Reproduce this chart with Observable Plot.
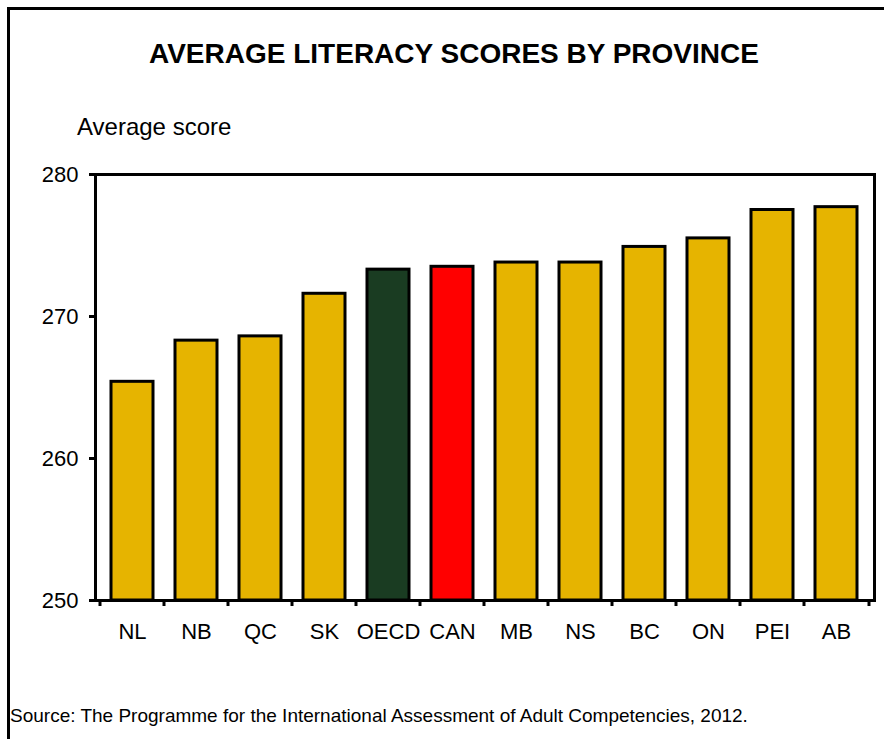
<!DOCTYPE html>
<html>
<head>
<meta charset="utf-8">
<script src="https://cdn.jsdelivr.net/npm/d3@7"></script>
<script src="https://cdn.jsdelivr.net/npm/@observablehq/plot@0.6"></script>
<style>
  html, body { margin: 0; padding: 0; background: #fff; }
  body { width: 884px; height: 739px; overflow: hidden; position: relative; font-family: "Liberation Sans", Arial, sans-serif; color: #000; }
  #border { position: absolute; left: 7px; top: 7px; width: 1000px; height: 1000px; border-left: 3px solid #000; border-top: 3px solid #000; }
  #title { position: absolute; left: 454px; top: 40px; transform: translateX(-50%); white-space: nowrap; font-weight: bold; font-size: 28px; line-height: 1; }
  #ylabel { position: absolute; left: 77px; top: 115px; font-size: 24px; line-height: 1; white-space: nowrap; }
  #chart { position: absolute; left: 0; top: 140px; }
  #source { position: absolute; left: 10px; top: 706px; font-size: 19px; line-height: 1; white-space: nowrap; }
</style>
</head>
<body>
<div id="border"></div>
<div id="title">AVERAGE LITERACY SCORES BY PROVINCE</div>
<div id="ylabel">Average score</div>
<div id="chart"></div>
<div id="source">Source: The Programme for the International Assessment of Adult Competencies, 2012.</div>
<script>
const categories = ["NL", "NB", "QC", "SK", "OECD", "CAN", "MB", "NS", "BC", "ON", "PEI", "AB"];
const scores = [265.4, 268.3, 268.6, 271.6, 273.3, 273.5, 273.8, 273.8, 274.9, 275.5, 277.5, 277.7];
const barColors = ["#E6B400", "#E6B400", "#E6B400", "#E6B400", "#1A3C22", "#FF0000", "#E6B400", "#E6B400", "#E6B400", "#E6B400", "#E6B400", "#E6B400"];
const yTicks = [250, 260, 270, 280];

const data = categories.map((c, i) => ({cat: c, score: scores[i], color: barColors[i]}));

const chart = Plot.plot({
  width: 884,
  height: 520,
  marginLeft: 95,
  marginRight: 10,
  marginTop: 34,
  marginBottom: 60,
  style: {fontFamily: "'Liberation Sans', Arial, sans-serif", fontSize: "22px", color: "#000", background: "transparent"},
  x: {domain: categories, paddingInner: 0.34, paddingOuter: 0.17, label: null},
  y: {domain: [250, 280], label: null},
  color: {type: "identity"},
  marks: [
    Plot.barY(data, {x: "cat", y1: 250, y2: "score", fill: "color", stroke: "#000", strokeWidth: 3}),
    Plot.frame({stroke: "#000", strokeWidth: 3}),
    Plot.axisY({ticks: yTicks, tickSize: 6, tickPadding: 11, strokeWidth: 3, label: null, tickFormat: d => String(d)}),
    Plot.axisX({tickSize: 0, tickPadding: 23, label: null}),
    Plot.ruleX(categories, {x: d => d, y1: 250, y2: 250, dx: -32.5, insetBottom: -6, stroke: "#000", strokeWidth: 3}),
    Plot.ruleX(categories.slice(-1), {x: d => d, y1: 250, y2: 250, dx: 32.5, insetBottom: -6, stroke: "#000", strokeWidth: 3})
  ]
});
document.getElementById("chart").appendChild(chart);
</script>
</body>
</html>
